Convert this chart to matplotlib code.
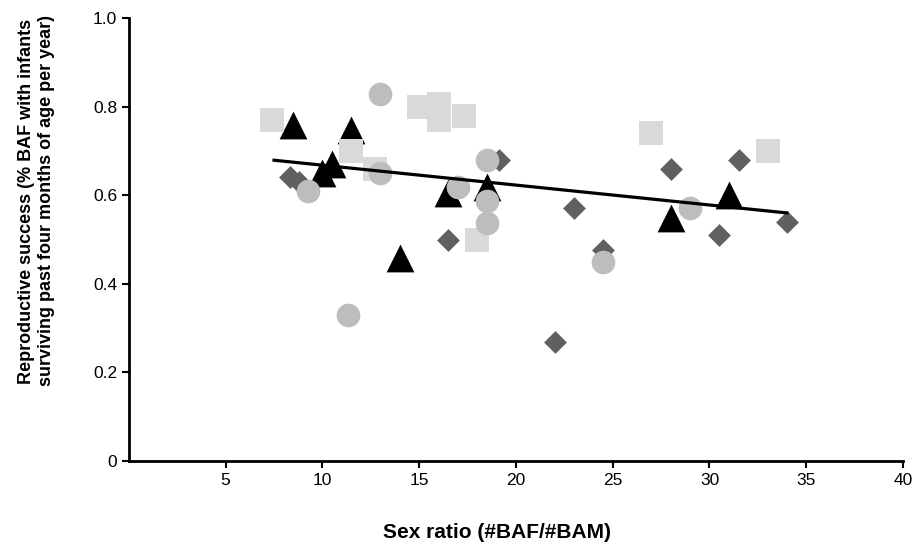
import matplotlib
matplotlib.use("Agg")
import matplotlib.pyplot as plt

plt.rcParams['font.family'] = ['Liberation Sans', 'DejaVu Sans']

# data
sq_x = [7.4, 11.5, 12.7, 15.0, 16.0, 16.0, 17.3, 18.0, 27.0, 33.0]
sq_y = [0.77, 0.70, 0.66, 0.80, 0.806, 0.77, 0.779, 0.50, 0.74, 0.70]

circ_x = [13.0, 9.25, 13.0, 17.0, 18.5, 18.5, 18.5, 11.3, 24.5, 29.0]
circ_y = [0.828, 0.61, 0.65, 0.619, 0.68, 0.587, 0.537, 0.33, 0.449, 0.571]

dia_x = [8.3, 8.8, 19.1, 16.5, 23.0, 24.5, 22.0, 28.0, 31.5, 30.5, 34.0]
dia_y = [0.64, 0.63, 0.68, 0.499, 0.571, 0.476, 0.269, 0.659, 0.679, 0.51, 0.54]

tri_x = [8.5, 11.5, 10.0, 10.5, 14.0, 16.5, 18.5, 28.0, 31.0]
tri_y = [0.758, 0.747, 0.65, 0.67, 0.459, 0.606, 0.618, 0.549, 0.60]

fit_x = [7.5, 34.0]
fit_y = [0.679, 0.56]

xticks = [5, 10, 15, 20, 25, 30, 35, 40]
yticks = [0, 0.2, 0.4, 0.6, 0.8, 1.0]
ytick_labels = ["0", "0.2", "0.4", "0.6", "0.8", "1.0"]

fig = plt.figure(figsize=(9.14, 5.45), dpi=100)
ax = fig.add_axes([0.141, 0.154, 0.847, 0.813])

ax.scatter(dia_x, dia_y, marker='D', s=135, color='#606060', linewidths=0, zorder=2)
ax.scatter(tri_x, tri_y, marker='^', s=400, color='black', linewidths=0, zorder=3)
ax.scatter(sq_x, sq_y, marker='s', s=290, color='#d9d9d9', linewidths=0, zorder=4)
ax.scatter(circ_x, circ_y, marker='o', s=290, color='#bdbdbd', linewidths=0, zorder=5)
ax.plot(fit_x, fit_y, color='black', lw=2.3, zorder=6)

ax.set_xlim(0, 40)
ax.set_ylim(0, 1.0)
ax.set_xticks(xticks)
ax.set_xticklabels([str(t) for t in xticks])
ax.set_yticks(yticks)
ax.set_yticklabels(ytick_labels)
ax.tick_params(axis='both', labelsize=12.5, length=5, width=1.5, direction='out')

for side in ['top', 'right']:
    ax.spines[side].set_visible(False)
for side in ['left', 'bottom']:
    ax.spines[side].set_linewidth(2)

ax.set_xlabel("Sex ratio (#BAF/#BAM)", fontsize=15, fontweight='bold')
ax.xaxis.set_label_coords(0.475, -0.14)
ax.set_ylabel("Reproductive success (% BAF with infants\nsurviving past four months of age per year)",
              fontsize=13, fontweight='bold')
ax.yaxis.set_label_coords(-0.096, 0.587)

fig.savefig("out.png", dpi=100)
